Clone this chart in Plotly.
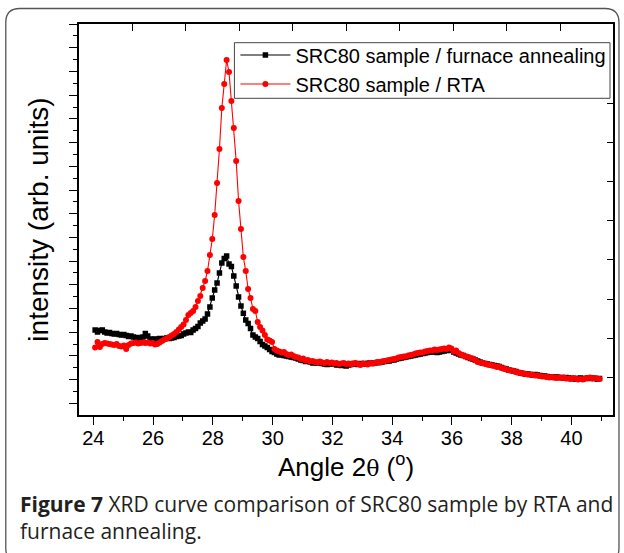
import numpy as np
import plotly.graph_objects as go

# ---------------- data ----------------
ANGLE_START = 24.06
ANGLE_STEP = 0.08

furnace_intensity = [
    85, 83, 84.5, 85, 83, 82, 82.5, 81.5, 81, 81.5,
    80.5, 80, 80.5, 79.5, 78.5, 79, 78, 77, 77.5, 76.5,
    78, 81.5, 79, 76, 75.5, 76, 75.5, 76.5, 75.5, 76.5,
    77, 76.5, 77, 77.5, 78.5, 79, 79.5, 81, 82, 83,
    82.5, 85, 86.5, 88.5, 92, 94, 96, 101, 108, 117,
    125, 132, 142, 152, 156.5, 159, 151, 148.5, 139, 129,
    118, 109, 101.7, 95, 91.5, 86.5, 80, 78, 76.5, 73.5,
    70.5, 69, 67.5, 65.5, 63.5, 62.5, 61, 60, 60.5, 59.5,
    59, 58.5, 58, 57.5, 57, 56, 55, 54.5, 53.5, 54,
    53, 52, 52.5, 52, 52.5, 51.5, 51, 50.5, 51, 51.5,
    51, 50, 50.5, 49.5, 50, 49, 50, 50.5, 51.5, 51,
    50.5, 51.5, 51, 51.5, 51.5, 52, 51.5, 52, 52.5, 52.5,
    53, 53.5, 54, 54, 55, 55, 56, 56.5, 57, 57.5,
    58, 58.5, 59, 59.5, 60, 60.5, 61, 61.5, 62, 62.5,
    63, 63, 63.5, 62.5, 63, 63.5, 64, 64.5, 65, 64.5,
    63, 62, 61, 60, 59.5, 58.5, 57.5, 56.5, 56, 55,
    54, 53, 52, 51.5, 51, 50.5, 50, 49.5, 49, 48.5,
    47.5, 46.5, 46, 45, 44.5, 44, 43.5, 42.5, 42, 41.5,
    41, 41, 40.5, 40, 40.5, 40, 39.5, 39, 39, 38.5,
    38, 38, 37.5, 38, 37.5, 37.5, 37, 37.5, 37, 36.5,
    36.5, 36, 36.5, 37, 36, 36.5, 37, 36.5, 37, 36.5,
    36, 36.5,
]

rta_intensity = [
    67.5, 73, 68, 71, 72, 71.5, 71, 70.5, 70, 71,
    69, 68.5, 69.5, 66, 70, 71.5, 72, 72.5, 71.5, 72,
    72.5, 72, 72.5, 71.5, 72, 70.5, 71, 72.5, 74, 75.5,
    76.5, 78, 79.5, 81, 83, 85.5, 88, 90.5, 95, 100,
    102, 104, 108, 114, 119, 127, 134, 144, 160, 176,
    200, 232, 266, 307, 331, 355, 343, 314, 287, 254,
    214, 186, 158, 144, 126, 117, 106, 104, 93, 88,
    84.5, 80, 75.5, 74.5, 73, 66, 64.5, 63.5, 62.5, 63,
    61, 60, 60.5, 59, 58, 57.5, 56, 56.5, 54.5, 55,
    53.5, 54, 53, 52.5, 53.5, 52.5, 52, 53, 52, 52.5,
    51.5, 52, 51, 51.5, 52, 51, 51.5, 50.5, 51.5, 52,
    51, 50, 51.5, 51, 50.5, 52, 51.5, 52, 53, 52.5,
    53.5, 54, 54.5, 55, 55.5, 56, 56.5, 57.5, 58, 58.5,
    58.5, 59.5, 60, 60.5, 61.5, 62, 62.5, 62.5, 63.5, 64,
    64.5, 64.5, 65.5, 65, 65.5, 66, 66.5, 66, 67.5, 66.5,
    63.5, 64.5, 62, 60.5, 59.5, 58.5, 58, 57, 56.5, 55,
    53, 52.5, 52, 51.5, 50.5, 50, 49.5, 49, 48, 48.5,
    47, 46.5, 45.5, 45, 44.5, 44, 43, 42.5, 42, 41.5,
    41, 40.5, 40.5, 40, 39.5, 39.5, 39, 38.5, 38.5, 38,
    37.5, 38, 37.5, 37, 37.5, 37, 37.5, 36.5, 36.5, 36,
    37, 36.5, 35.5, 36, 35.5, 36.5, 37, 37.5, 36.5, 37,
    36.5, 36,
]

series_names = ["SRC80 sample / furnace annealing", "SRC80 sample / RTA"]
x_tick_values = [24, 26, 28, 30, 32, 34, 36, 38, 40]
x_tick_labels = ["24", "26", "28", "30", "32", "34", "36", "38", "40"]

# ---------------- layout geometry (pixels) ----------------
W, H = 624, 553
PL, PR, PT, PB = 79, 615, 24, 415
X_RANGE = [23.52, 41.39]
Y_RANGE = [0, 391]

def pxx(px):
    return (px - PL) / (PR - PL)

def pxy(py):
    return (PB - py) / (PB - PT)

ang_f = ANGLE_START + ANGLE_STEP * np.arange(len(furnace_intensity))
ang_r = ANGLE_START + ANGLE_STEP * np.arange(len(rta_intensity))

fig = go.Figure()
fig.add_trace(go.Scatter(
    x=ang_f, y=furnace_intensity, name=series_names[0], mode="lines+markers",
    line=dict(color="black", width=1.1),
    marker=dict(symbol="square", size=5.5, color="black"),
))
fig.add_trace(go.Scatter(
    x=ang_r, y=rta_intensity, name=series_names[1], mode="lines+markers",
    line=dict(color="#ff0000", width=1.1),
    marker=dict(symbol="circle", size=6, color="#ff0000"),
))
# dummy trace to carry the top/right tick axes
fig.add_trace(go.Scatter(x=[None], y=[None], xaxis="x2", yaxis="y2",
                         showlegend=False, hoverinfo="skip"))

top_ticks = [25.31, 27.10, 28.89, 30.68, 32.47, 34.26, 36.05, 37.84, 39.63]
right_ticks = [38, 77, 116, 156, 195, 234, 273, 312]

font_main = "Liberation Sans, Arial, sans-serif"

fig.update_layout(
    width=W, height=H,
    margin=dict(l=PL, r=W - PR, t=PT, b=H - PB),
    paper_bgcolor="white", plot_bgcolor="white",
    font=dict(family=font_main, color="black"),
    showlegend=True,
    legend=dict(
        x=pxx(236), y=pxy(35.5), xanchor="left", yanchor="top",
        bgcolor="rgba(0,0,0,0)", borderwidth=0,
        font=dict(family=font_main, size=20, color="black"),
        itemwidth=50, tracegroupgap=0,
    ),
    xaxis=dict(
        range=X_RANGE, tickvals=x_tick_values, ticktext=x_tick_labels,
        ticks="outside", ticklen=8, tickwidth=1.2, tickcolor="black",
        minor=dict(ticks="outside", ticklen=4, tickwidth=1.2, dtick=1, tick0=24, tickcolor="black"),
        showline=True, linecolor="black", linewidth=1.5, mirror=True,
        showgrid=False, zeroline=False, ticklabelstandoff=-4,
        tickfont=dict(family=font_main, size=20, color="black"),
        title=dict(text="Angle 2<span style='font-family:DejaVu Serif;font-size:22px'>θ</span> (<sup>o</sup>)",
                   font=dict(family=font_main, size=26, color="black"), standoff=2),
    ),
    yaxis=dict(
        range=Y_RANGE, tick0=11.7, dtick=23.7,
        ticks="outside", ticklen=8, tickwidth=1.2, tickcolor="black",
        minor=dict(ticks="outside", ticklen=4, tickwidth=1.2, tick0=11.7 + 11.85, dtick=23.7, tickcolor="black"),
        showticklabels=False,
        showline=True, linecolor="black", linewidth=1.5, mirror=True,
        showgrid=False, zeroline=False,
        title=dict(text="intensity (arb. units)",
                   font=dict(family=font_main, size=28, color="black"), standoff=12),
    ),
    xaxis2=dict(
        overlaying="x", side="top", anchor="y", range=X_RANGE,
        tickvals=top_ticks, ticks="inside", ticklen=7, tickwidth=1.2, tickcolor="black",
        showticklabels=False, showline=False, showgrid=False, zeroline=False,
    ),
    yaxis2=dict(
        overlaying="y", side="right", anchor="x", range=Y_RANGE,
        tickvals=right_ticks, ticks="inside", ticklen=6, tickwidth=1.2, tickcolor="black",
        showticklabels=False, showline=False, showgrid=False, zeroline=False,
    ),
)

# legend frame (drawn behind the transparent legend)
fig.add_shape(type="rect", xref="paper", yref="paper",
              x0=pxx(235), x1=pxx(612), y0=pxy(98.3), y1=pxy(42.7),
              fillcolor="white", line=dict(color="#444444", width=1), layer="above")

# caption
cap_font = dict(family="Open Sans, Noto Sans, sans-serif", size=21, color="#231f20")
fig.add_annotation(
    xref="paper", yref="paper", x=pxx(18), y=pxy(504), xanchor="left", yanchor="middle",
    text="<b>Figure 7</b> XRD curve comparison of SRC80 sample by RTA and",
    showarrow=False, font=cap_font,
)
fig.add_annotation(
    xref="paper", yref="paper", x=pxx(18), y=pxy(531), xanchor="left", yanchor="middle",
    text="furnace annealing.", showarrow=False, font=cap_font,
)

# rounded figure frame
L, R, T, B, rad = 5.5, 621, 8.5, 562, 14
path = (
    f"M {pxx(L)},{pxy(T + rad)} "
    f"Q {pxx(L)},{pxy(T)} {pxx(L + rad)},{pxy(T)} "
    f"L {pxx(R - rad)},{pxy(T)} "
    f"Q {pxx(R)},{pxy(T)} {pxx(R)},{pxy(T + rad)} "
    f"L {pxx(R)},{pxy(B - rad)} "
    f"Q {pxx(R)},{pxy(B)} {pxx(R - rad)},{pxy(B)} "
    f"L {pxx(L + rad)},{pxy(B)} "
    f"Q {pxx(L)},{pxy(B)} {pxx(L)},{pxy(B - rad)} Z"
)
fig.add_shape(type="path", path=path, xref="paper", yref="paper",
              line=dict(color="#555555", width=1.3), layer="below")

fig.write_html("out.html")
